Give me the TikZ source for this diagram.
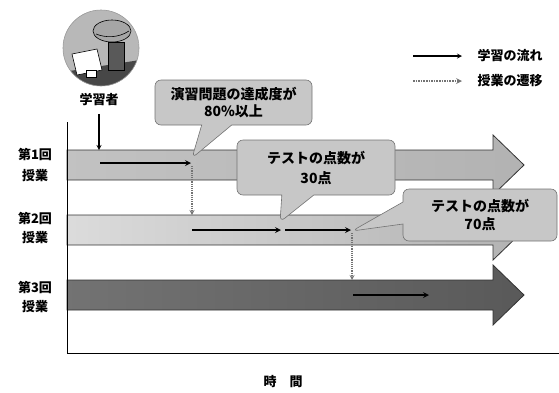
\documentclass[tikz,border=0pt]{standalone}
\usepackage{fontspec}
\newfontfamily\jp{Noto Sans CJK JP}
\usetikzlibrary{shapes.callouts}

\tikzset{
	rowname/.style={font=\jp\bfseries\fontsize{13}{21}\selectfont, align=center},
	band/.style={draw=black!80, line width=0.8pt},
	flow/.style={-stealth, line width=1.6pt, black},
	move/.style={-stealth, black!55, densely dotted, line width=1.2pt},
	note/.style={rectangle callout, rounded corners=6pt, fill=black!22, draw=black!55,
		line width=0.6pt, font=\jp\bfseries\fontsize{14}{17}\selectfont, align=center,
		inner sep=0pt, outer sep=0pt},
}

\begin{document}
\begin{tikzpicture}[x=1pt, y=-1pt]
	\useasboundingbox (0,0) rectangle (559,392);
	
	% lessons as wide arrows
	\draw[band, left color=black!24, right color=black!30] (67,150) -- (493,150) -- (493,135) -- (524,165)
		-- (493,195) -- (493,180) -- (67,180) -- cycle;
	\draw[band, left color=black!14, right color=black!30] (67,215) -- (493,215) -- (493,200) -- (524,230)
		-- (493,260) -- (493,245) -- (67,245) -- cycle;
	\draw[band, left color=black!55, right color=black!65] (67,280) -- (493,280) -- (493,265) -- (524,295)
		-- (493,325) -- (493,310) -- (67,310) -- cycle;
	
	% axes
	\coordinate (top) at (67,122);
	\coordinate (origin) at (67,353);
	\coordinate (right) at (559,353);
	\draw[line width=1pt] (top) -- (origin) -- (right);
	\node[rowname] (timelabel) at (283,382) {時　間};
	
	\node[rowname] (lesson1) at (35,165) {第1回\\授業};
	\node[rowname, font=\jp\bfseries\fontsize{13}{19}\selectfont] (lesson2) at (35,228) {第2回\\授業};
	\node[rowname, font=\jp\bfseries\fontsize{13}{19}\selectfont] (lesson3) at (35,297) {第3回\\授業};
	
	% learner icon
	\begin{scope}
		\clip (101,48) circle (38);
		\fill[black!28] (101,48) circle (38);
		\fill[black!72] (63,72) -- (140,60) -- (140,90) -- (63,90) -- cycle;
		\filldraw[fill=black!65, draw=black, line width=0.6pt] (108,42) rectangle (124,70);
		\filldraw[fill=black!35, draw=black, line width=0.6pt] (112,31) ellipse (19 and 11);
		\draw[line width=0.6pt] (96,34) .. controls (106,38) and (118,38) .. (129,31);
		\filldraw[fill=white, draw=black, line width=0.6pt] (72,54) -- (97,49) -- (102,70) -- (77,75) -- cycle;
		\filldraw[fill=white, draw=black, line width=0.5pt] (86,70) rectangle (96,77);
	\end{scope}
	\draw[black!40, line width=0.6pt] (101,48) circle (38);
	\node[rowname] (learner) at (99,100) {学習者};
	
	% callouts
	\node[note, minimum width=157pt, minimum height=45pt, callout absolute pointer={(192,158)},
		callout pointer width=30pt] (note1) at (233.5,102.5) {演習問題の達成度が\\80\%以上};
	\node[note, minimum width=158pt, minimum height=55pt, callout absolute pointer={(280,222)},
		callout pointer width=32pt, font=\jp\bfseries\fontsize{14}{20}\selectfont] (note2) at (316,167.5)
		{テストの点数が\\30点};
	\node[note, minimum width=154pt, minimum height=52pt, callout absolute pointer={(352,231)},
		callout pointer width=22pt, font=\jp\bfseries\fontsize{14}{18}\selectfont] (note3) at (480,215)
		{テストの点数が\\70点};
	
	% learning flow
	\coordinate (in1) at (99,150);
	\coordinate (a1) at (100,163);
	\coordinate (b1) at (191,163);
	\coordinate (a2) at (192,230);
	\coordinate (b2) at (281,230);
	\coordinate (c2) at (285,230);
	\coordinate (d2) at (351,230);
	\coordinate (a3) at (353,295);
	\coordinate (b3) at (429,295);
	\draw[flow, line width=1.2pt] (learner.south) ++(0,4) -- (in1);
	\draw[flow] (a1) -- (b1);
	\draw[flow] (a2) -- (b2);
	\draw[flow] (c2) -- (d2);
	\draw[flow] (a3) -- (b3);
	
	% lesson transitions
	\coordinate (t1) at (192,215);
	\coordinate (t2) at (352,280);
	\draw[move] (192,166) -- (t1);
	\draw[move] (352,233) -- (t2);
	
	% legend
	\coordinate (k1) at (413,56);
	\coordinate (k2) at (462,56);
	\coordinate (k3) at (413,81);
	\coordinate (k4) at (462,81);
	\draw[-stealth, line width=1.2pt] (k1) -- (k2);
	\draw[move, line width=1.6pt] (k3) -- (k4);
	\node[rowname, anchor=west] (keyflow) at (474,56) {学習の流れ};
	\node[rowname, anchor=west] (keymove) at (474,81) {授業の遷移};
\end{tikzpicture}
\end{document}
